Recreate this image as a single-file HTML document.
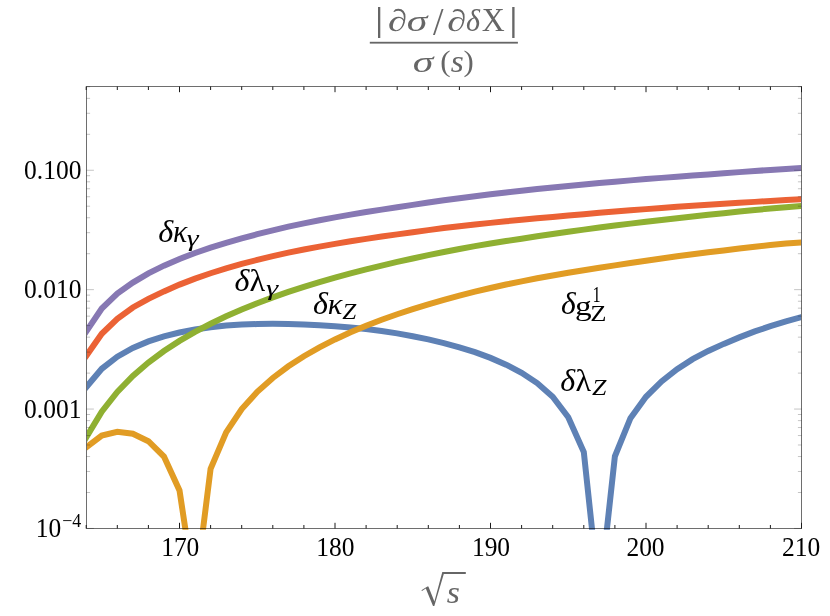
<!DOCTYPE html>
<html><head><meta charset="utf-8"><title>plot</title>
<style>html,body{margin:0;padding:0;background:#fff;}body{width:830px;height:616px;position:relative;overflow:hidden;font-family:"Liberation Serif",serif;}.ls,.ls text,.ls tspan{font-family:"Liberation Serif",serif;}</style>
</head><body>
<svg width="830" height="616" viewBox="0 0 830 616" style="position:absolute;left:0;top:0;display:block;will-change:transform">
<defs><clipPath id="pc"><rect x="87.0" y="86.0" width="714.0" height="443.7"/></clipPath></defs>
<rect width="830" height="616" fill="#fff"/>
<g clip-path="url(#pc)" fill="none" stroke-linejoin="miter" stroke-linecap="butt">
<path d="M80.20,394.32 L86.20,387.21 L101.75,368.77 L117.30,356.71 L132.85,347.98 L148.40,341.41 L163.95,336.37 L179.50,332.47 L195.05,329.46 L210.60,327.20 L226.15,325.60 L241.70,324.57 L257.25,324.01 L272.80,323.85 L288.35,324.02 L303.90,324.48 L319.45,325.19 L335.00,326.17 L350.55,327.45 L366.10,329.05 L381.65,331.02 L397.20,333.39 L412.75,336.19 L428.30,339.40 L443.85,343.09 L459.40,347.32 L474.95,352.21 L490.50,357.90 L506.05,364.65 L521.60,372.82 L537.15,383.08 L552.70,396.78 L568.25,417.27 L583.80,452.00 L599.35,598.00 L614.90,456.27 L630.45,418.19 L646.00,396.80 L661.55,381.40 L677.10,369.16 L692.65,359.19 L708.20,350.96 L723.75,343.88 L739.30,337.36 L754.85,331.43 L770.40,326.14 L785.95,321.34 L801.50,317.03 L807.50,315.36" stroke="#5E81B5" stroke-width="6.0"/>
<path d="M80.20,451.95 L86.20,447.40 L101.75,435.60 L117.30,431.80 L132.85,433.70 L148.40,441.20 L163.95,456.60 L179.50,490.40 L195.05,593.00 L210.60,468.75 L226.15,432.38 L241.70,409.08 L257.25,391.81 L272.80,377.96 L288.35,366.29 L303.90,356.23 L319.45,347.37 L335.00,339.45 L350.55,332.29 L366.10,325.76 L381.65,319.77 L397.20,314.24 L412.75,309.10 L428.30,304.31 L443.85,299.84 L459.40,295.64 L474.95,291.70 L490.50,288.01 L506.05,284.55 L521.60,281.33 L537.15,278.32 L552.70,275.50 L568.25,272.82 L583.80,270.26 L599.35,267.77 L614.90,265.34 L630.45,262.97 L646.00,260.66 L661.55,258.44 L677.10,256.30 L692.65,254.27 L708.20,252.35 L723.75,250.44 L739.30,248.55 L754.85,246.73 L770.40,245.06 L785.95,243.60 L801.50,242.41 L807.50,241.95" stroke="#E19C24" stroke-width="6.0"/>
<path d="M80.20,447.40 L86.20,437.45 L101.75,411.67 L117.30,391.97 L132.85,376.01 L148.40,362.58 L163.95,351.02 L179.50,340.88 L195.05,331.86 L210.60,323.72 L226.15,316.32 L241.70,309.50 L257.25,303.21 L272.80,297.37 L288.35,291.92 L303.90,286.83 L319.45,282.05 L335.00,277.56 L350.55,273.34 L366.10,269.36 L381.65,265.58 L397.20,261.95 L412.75,258.47 L428.30,255.15 L443.85,251.98 L459.40,248.97 L474.95,246.17 L490.50,243.54 L506.05,241.05 L521.60,238.66 L537.15,236.34 L552.70,234.04 L568.25,231.80 L583.80,229.64 L599.35,227.56 L614.90,225.56 L630.45,223.63 L646.00,221.77 L661.55,219.94 L677.10,218.17 L692.65,216.45 L708.20,214.79 L723.75,213.15 L739.30,211.57 L754.85,210.02 L770.40,208.53 L785.95,207.15 L801.50,205.92 L807.50,205.44" stroke="#8FB032" stroke-width="6.0"/>
<path d="M80.20,364.48 L86.20,355.92 L101.75,333.73 L117.30,318.73 L132.85,307.47 L148.40,298.84 L163.95,291.39 L179.50,284.60 L195.05,278.61 L210.60,273.24 L226.15,268.39 L241.70,263.97 L257.25,259.92 L272.80,256.16 L288.35,252.66 L303.90,249.49 L319.45,246.58 L335.00,243.85 L350.55,241.29 L366.10,238.88 L381.65,236.59 L397.20,234.40 L412.75,232.26 L428.30,230.10 L443.85,228.06 L459.40,226.23 L474.95,224.51 L490.50,222.87 L506.05,221.30 L521.60,219.78 L537.15,218.32 L552.70,216.90 L568.25,215.52 L583.80,214.17 L599.35,212.85 L614.90,211.58 L630.45,210.33 L646.00,209.13 L661.55,207.97 L677.10,206.85 L692.65,205.78 L708.20,204.76 L723.75,203.77 L739.30,202.80 L754.85,201.87 L770.40,200.96 L785.95,200.07 L801.50,199.21 L807.50,198.88" stroke="#EB6235" stroke-width="6.0"/>
<path d="M80.20,340.42 L86.20,331.52 L101.75,308.47 L117.30,293.67 L132.85,282.58 L148.40,273.43 L163.95,265.67 L179.50,258.95 L195.05,253.01 L210.60,247.67 L226.15,242.82 L241.70,238.36 L257.25,234.20 L272.80,230.31 L288.35,226.69 L303.90,223.33 L319.45,220.23 L335.00,217.34 L350.55,214.62 L366.10,212.05 L381.65,209.59 L397.20,207.22 L412.75,204.86 L428.30,202.50 L443.85,200.25 L459.40,198.17 L474.95,196.20 L490.50,194.31 L506.05,192.50 L521.60,190.77 L537.15,189.10 L552.70,187.50 L568.25,185.96 L583.80,184.48 L599.35,183.06 L614.90,181.69 L630.45,180.37 L646.00,179.10 L661.55,177.88 L677.10,176.69 L692.65,175.55 L708.20,174.42 L723.75,173.28 L739.30,172.13 L754.85,171.00 L770.40,169.93 L785.95,168.93 L801.50,168.04 L807.50,167.70" stroke="#8778B3" stroke-width="6.0"/>
</g>
<path d="M86.5,528.45 h7.4 M801.5,528.45 h-7.4" stroke="#000" stroke-opacity="0.23" stroke-width="1"/>
<path d="M86.5,492.51 h3.6 M801.5,492.51 h-3.6" stroke="#000" stroke-opacity="0.23" stroke-width="1"/>
<path d="M86.5,471.48 h3.6 M801.5,471.48 h-3.6" stroke="#000" stroke-opacity="0.23" stroke-width="1"/>
<path d="M86.5,456.56 h3.6 M801.5,456.56 h-3.6" stroke="#000" stroke-opacity="0.23" stroke-width="1"/>
<path d="M86.5,444.99 h3.6 M801.5,444.99 h-3.6" stroke="#000" stroke-opacity="0.23" stroke-width="1"/>
<path d="M86.5,435.54 h3.6 M801.5,435.54 h-3.6" stroke="#000" stroke-opacity="0.23" stroke-width="1"/>
<path d="M86.5,427.55 h3.6 M801.5,427.55 h-3.6" stroke="#000" stroke-opacity="0.23" stroke-width="1"/>
<path d="M86.5,420.62 h3.6 M801.5,420.62 h-3.6" stroke="#000" stroke-opacity="0.23" stroke-width="1"/>
<path d="M86.5,414.51 h3.6 M801.5,414.51 h-3.6" stroke="#000" stroke-opacity="0.23" stroke-width="1"/>
<path d="M86.5,409.05 h7.4 M801.5,409.05 h-7.4" stroke="#000" stroke-opacity="0.23" stroke-width="1"/>
<path d="M86.5,373.11 h3.6 M801.5,373.11 h-3.6" stroke="#000" stroke-opacity="0.23" stroke-width="1"/>
<path d="M86.5,352.08 h3.6 M801.5,352.08 h-3.6" stroke="#000" stroke-opacity="0.23" stroke-width="1"/>
<path d="M86.5,337.16 h3.6 M801.5,337.16 h-3.6" stroke="#000" stroke-opacity="0.23" stroke-width="1"/>
<path d="M86.5,325.59 h3.6 M801.5,325.59 h-3.6" stroke="#000" stroke-opacity="0.23" stroke-width="1"/>
<path d="M86.5,316.14 h3.6 M801.5,316.14 h-3.6" stroke="#000" stroke-opacity="0.23" stroke-width="1"/>
<path d="M86.5,308.15 h3.6 M801.5,308.15 h-3.6" stroke="#000" stroke-opacity="0.23" stroke-width="1"/>
<path d="M86.5,301.22 h3.6 M801.5,301.22 h-3.6" stroke="#000" stroke-opacity="0.23" stroke-width="1"/>
<path d="M86.5,295.11 h3.6 M801.5,295.11 h-3.6" stroke="#000" stroke-opacity="0.23" stroke-width="1"/>
<path d="M86.5,289.65 h7.4 M801.5,289.65 h-7.4" stroke="#000" stroke-opacity="0.23" stroke-width="1"/>
<path d="M86.5,253.71 h3.6 M801.5,253.71 h-3.6" stroke="#000" stroke-opacity="0.23" stroke-width="1"/>
<path d="M86.5,232.68 h3.6 M801.5,232.68 h-3.6" stroke="#000" stroke-opacity="0.23" stroke-width="1"/>
<path d="M86.5,217.76 h3.6 M801.5,217.76 h-3.6" stroke="#000" stroke-opacity="0.23" stroke-width="1"/>
<path d="M86.5,206.19 h3.6 M801.5,206.19 h-3.6" stroke="#000" stroke-opacity="0.23" stroke-width="1"/>
<path d="M86.5,196.74 h3.6 M801.5,196.74 h-3.6" stroke="#000" stroke-opacity="0.23" stroke-width="1"/>
<path d="M86.5,188.75 h3.6 M801.5,188.75 h-3.6" stroke="#000" stroke-opacity="0.23" stroke-width="1"/>
<path d="M86.5,181.82 h3.6 M801.5,181.82 h-3.6" stroke="#000" stroke-opacity="0.23" stroke-width="1"/>
<path d="M86.5,175.71 h3.6 M801.5,175.71 h-3.6" stroke="#000" stroke-opacity="0.23" stroke-width="1"/>
<path d="M86.5,170.25 h7.4 M801.5,170.25 h-7.4" stroke="#000" stroke-opacity="0.23" stroke-width="1"/>
<path d="M86.5,134.31 h3.6 M801.5,134.31 h-3.6" stroke="#000" stroke-opacity="0.23" stroke-width="1"/>
<path d="M86.5,113.28 h3.6 M801.5,113.28 h-3.6" stroke="#000" stroke-opacity="0.23" stroke-width="1"/>
<path d="M86.5,98.36 h3.6 M801.5,98.36 h-3.6" stroke="#000" stroke-opacity="0.23" stroke-width="1"/>
<path d="M86.5,86.79 h3.6 M801.5,86.79 h-3.6" stroke="#000" stroke-opacity="0.23" stroke-width="1"/>
<rect x="86.5" y="86.5" width="715.0" height="442.0" fill="none" stroke="#000" stroke-opacity="0.57" stroke-width="1"/>
<path d="M86.20,528.5 v-3.5 M86.20,86.5 v3.5" stroke="#1a1a1a" stroke-width="1"/>
<path d="M117.30,528.5 v-3.5 M117.30,86.5 v3.5" stroke="#1a1a1a" stroke-width="1"/>
<path d="M148.40,528.5 v-3.5 M148.40,86.5 v3.5" stroke="#1a1a1a" stroke-width="1"/>
<path d="M179.50,528.5 v-5.7 M179.50,86.5 v5.7" stroke="#1a1a1a" stroke-width="1"/>
<path d="M210.60,528.5 v-3.5 M210.60,86.5 v3.5" stroke="#1a1a1a" stroke-width="1"/>
<path d="M241.70,528.5 v-3.5 M241.70,86.5 v3.5" stroke="#1a1a1a" stroke-width="1"/>
<path d="M272.80,528.5 v-3.5 M272.80,86.5 v3.5" stroke="#1a1a1a" stroke-width="1"/>
<path d="M303.90,528.5 v-3.5 M303.90,86.5 v3.5" stroke="#1a1a1a" stroke-width="1"/>
<path d="M335.00,528.5 v-5.7 M335.00,86.5 v5.7" stroke="#1a1a1a" stroke-width="1"/>
<path d="M366.10,528.5 v-3.5 M366.10,86.5 v3.5" stroke="#1a1a1a" stroke-width="1"/>
<path d="M397.20,528.5 v-3.5 M397.20,86.5 v3.5" stroke="#1a1a1a" stroke-width="1"/>
<path d="M428.30,528.5 v-3.5 M428.30,86.5 v3.5" stroke="#1a1a1a" stroke-width="1"/>
<path d="M459.40,528.5 v-3.5 M459.40,86.5 v3.5" stroke="#1a1a1a" stroke-width="1"/>
<path d="M490.50,528.5 v-5.7 M490.50,86.5 v5.7" stroke="#1a1a1a" stroke-width="1"/>
<path d="M521.60,528.5 v-3.5 M521.60,86.5 v3.5" stroke="#1a1a1a" stroke-width="1"/>
<path d="M552.70,528.5 v-3.5 M552.70,86.5 v3.5" stroke="#1a1a1a" stroke-width="1"/>
<path d="M583.80,528.5 v-3.5 M583.80,86.5 v3.5" stroke="#1a1a1a" stroke-width="1"/>
<path d="M614.90,528.5 v-3.5 M614.90,86.5 v3.5" stroke="#1a1a1a" stroke-width="1"/>
<path d="M646.00,528.5 v-5.7 M646.00,86.5 v5.7" stroke="#1a1a1a" stroke-width="1"/>
<path d="M677.10,528.5 v-3.5 M677.10,86.5 v3.5" stroke="#1a1a1a" stroke-width="1"/>
<path d="M708.20,528.5 v-3.5 M708.20,86.5 v3.5" stroke="#1a1a1a" stroke-width="1"/>
<path d="M739.30,528.5 v-3.5 M739.30,86.5 v3.5" stroke="#1a1a1a" stroke-width="1"/>
<path d="M770.40,528.5 v-3.5 M770.40,86.5 v3.5" stroke="#1a1a1a" stroke-width="1"/>
<path d="M801.50,528.5 v-5.7 M801.50,86.5 v5.7" stroke="#1a1a1a" stroke-width="1"/>
<g class="ls" font-size="26.4" fill="#000">
<text transform="translate(180.25,556.4) scale(0.965,1)" text-anchor="middle">170</text>
<text transform="translate(335.40,556.4) scale(0.965,1)" text-anchor="middle">180</text>
<text transform="translate(491.00,556.4) scale(0.965,1)" text-anchor="middle">190</text>
<text transform="translate(645.50,556.4) scale(0.965,1)" text-anchor="middle">200</text>
<text transform="translate(801.20,556.4) scale(0.965,1)" text-anchor="middle">210</text>
<text transform="translate(81.4,179.05) scale(0.965,1)" text-anchor="end">0.100</text>
<text transform="translate(81.4,298.45) scale(0.965,1)" text-anchor="end">0.010</text>
<text transform="translate(81.4,417.85) scale(0.965,1)" text-anchor="end">0.001</text>
<text transform="translate(81.3,537.45) scale(0.965,1)" text-anchor="end">10<tspan font-size="18.6" dy="-10.4" dx="1.1">−4</tspan></text>
</g>
<g class="ls">
<text transform="translate(158.25,241.50) scale(0.3231,0.3091)" font-size="100" font-style="italic" fill="#000">δ</text>
<text transform="translate(173.01,241.60) scale(0.2973,0.3116)" font-size="100" font-style="italic" fill="#000">κ</text>
<text transform="translate(186.76,245.91) scale(0.3015,0.2203)" font-size="100" font-style="italic" fill="#000">γ</text>
<text transform="translate(234.51,291.20) scale(0.3209,0.3119)" font-size="100" font-style="italic" fill="#000">δ</text>
<text transform="translate(249.50,291.30) scale(0.3222,0.3167)" font-size="100" fill="#000">λ</text>
<text transform="translate(265.89,294.71) scale(0.3091,0.2158)" font-size="100" font-style="italic" fill="#000">γ</text>
<text transform="translate(313.11,314.09) scale(0.3209,0.3162)" font-size="100" font-style="italic" fill="#000">δ</text>
<text transform="translate(327.64,313.90) scale(0.3039,0.3028)" font-size="100" font-style="italic" fill="#000">κ</text>
<text transform="translate(342.34,319.10) scale(0.2517,0.2337)" font-size="100" font-style="italic" fill="#000">Z</text>
<text transform="translate(560.92,314.38) scale(0.3164,0.3246)" font-size="100" font-style="italic" fill="#000">δ</text>
<text transform="translate(575.12,314.63) scale(0.3333,0.2812)" font-size="100" fill="#000">g</text>
<text transform="translate(592.55,302.40) scale(0.1647,0.2333)" font-size="100" fill="#000">1</text>
<text transform="translate(590.18,321.00) scale(0.2656,0.2352)" font-size="100" fill="#000">Z</text>
<text transform="translate(560.31,390.99) scale(0.3209,0.3176)" font-size="100" font-style="italic" fill="#000">δ</text>
<text transform="translate(575.51,391.20) scale(0.3200,0.3224)" font-size="100" fill="#000">λ</text>
<text transform="translate(591.93,394.80) scale(0.2589,0.2352)" font-size="100" font-style="italic" fill="#000">Z</text>
<text transform="translate(374.53,31.46) scale(0.4618,0.3309)" font-size="100" fill="#666">|</text>
<text transform="translate(388.02,30.59) scale(0.3858,0.3105)" font-size="100" font-style="italic" fill="#666">∂</text>
<text transform="translate(406.85,30.71) scale(0.4181,0.2931)" font-size="100" font-style="italic" fill="#666">σ</text>
<text transform="translate(433.10,35.31) scale(0.3779,0.4036)" font-size="100" fill="#666">/</text>
<text transform="translate(447.23,30.60) scale(0.3834,0.3064)" font-size="100" font-style="italic" fill="#666">∂</text>
<text transform="translate(466.12,30.69) scale(0.3008,0.3148)" font-size="100" font-style="italic" fill="#666">δ</text>
<text transform="translate(481.70,30.80) scale(0.3181,0.3268)" font-size="100" fill="#666">X</text>
<text transform="translate(508.63,31.46) scale(0.4618,0.3309)" font-size="100" fill="#666">|</text>
<rect x="369.8" y="41.8" width="148.1" height="1.8" fill="#666"/>
<text transform="translate(412.75,72.32) scale(0.4181,0.2912)" font-size="100" font-style="italic" fill="#666">σ</text>
<text transform="translate(440.23,71.38) scale(0.3115,0.2923)" font-size="100" fill="#666">(</text>
<text transform="translate(450.69,72.30) scale(0.3346,0.3077)" font-size="100" font-style="italic" fill="#666">s</text>
<text transform="translate(463.41,71.38) scale(0.3076,0.2923)" font-size="100" fill="#666">)</text>
<text transform="translate(446.79,602.70) scale(0.3375,0.3077)" font-size="100" font-style="italic" fill="#666">s</text>
<path d="M421.4,590.3 L427.4,586.4 L428.4,586.4 L434.4,601.6 L442.3,571.9 L465.8,571.9 L465.8,573.9 L443.8,573.9 L434.3,605.9 L433.0,605.9 L425.8,588.6 L422.0,591.0 Z" fill="#666"/>
</g>
</svg>
</body></html>
